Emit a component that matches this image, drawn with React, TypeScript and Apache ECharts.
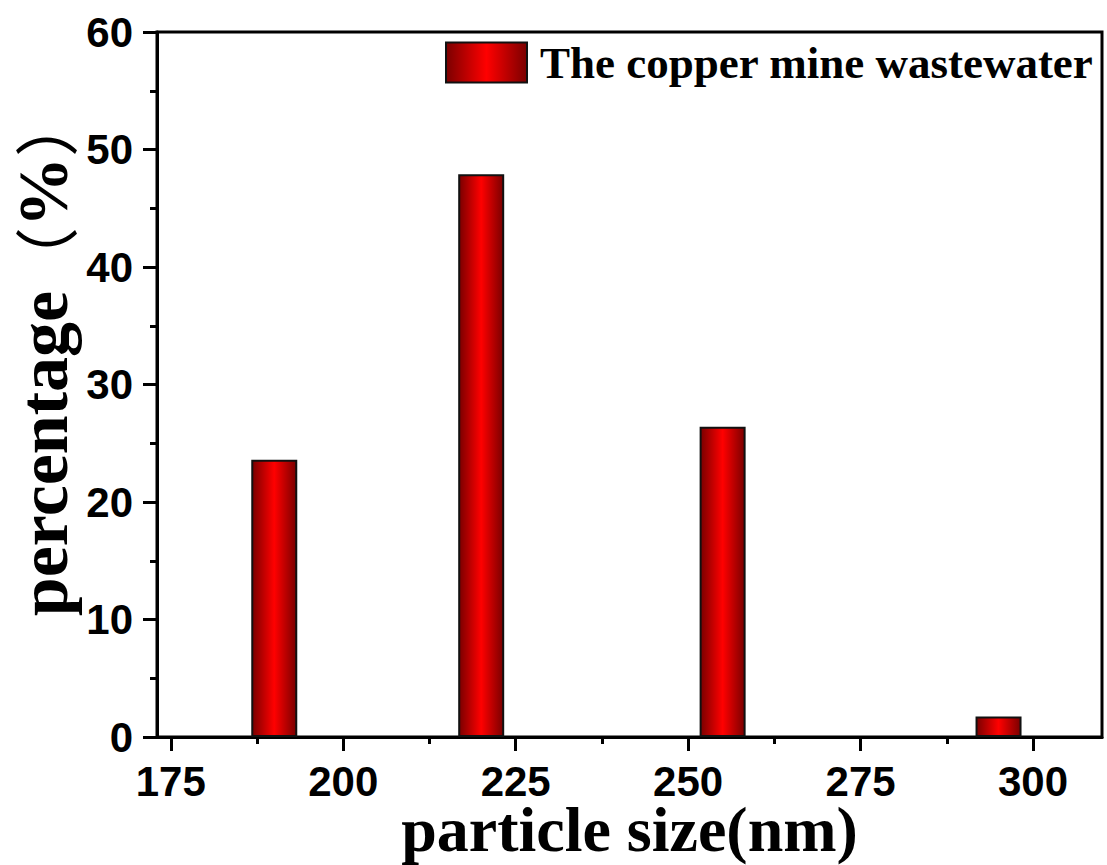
import React, { useEffect, useRef } from "react";
import * as echarts from "echarts";

const sizes = [190, 220, 255, 295];
const percentages = [23.6, 47.9, 26.4, 1.75];
const xMajorTicks = [175, 200, 225, 250, 275, 300];
const xMinorTicks = [187.5, 212.5, 237.5, 262.5, 287.5];
const seriesName = "The copper mine wastewater";

export default function App() {
  const ref = useRef<HTMLDivElement>(null);
  useEffect(() => {
    if (!ref.current) return;
    const chart = echarts.init(ref.current, undefined, { renderer: "svg" });
    const grad = new echarts.graphic.LinearGradient(0, 0, 1, 0, [
      { offset: 0, color: "#7a0000" },
      { offset: 0.5, color: "#ff0000" },
      { offset: 1, color: "#7a0000" },
    ]);
    const labelFont = {
      fontFamily: "Liberation Sans, Arial, sans-serif",
      fontWeight: "bold" as const,
      fontSize: 42,
      lineHeight: 40,
      color: "#000",
    };
    const serif = "Liberation Serif, Times New Roman, serif";
    const xCommon = {
      type: "value" as const,
      min: 173,
      max: 310,
      splitLine: { show: false },
    };
    chart.setOption({
      animation: false,
      backgroundColor: "#fff",
      grid: {
        left: 157,
        top: 32,
        right: 5,
        bottom: 128,
        outerBoundsMode: "none",
        containLabel: false,
        show: true,
        borderColor: "#000",
        borderWidth: 3,
        backgroundColor: "transparent",
      },
      legend: {
        left: 440,
        top: 35,
        itemWidth: 81,
        itemHeight: 40,
        icon: "rect",
        data: [seriesName],
        textStyle: {
          fontFamily: serif,
          fontWeight: "bold",
          fontSize: 45,
          color: "#000",
          padding: [0, 0, 0, 8],
        },
      },
      xAxis: [
        {
          ...xCommon,
          position: "bottom",
          name: "particle size(nm)",
          nameLocation: "middle",
          nameMoveOverlap: false,
          nameGap: 62,
          nameTextStyle: {
            fontFamily: serif,
            fontWeight: "bold",
            fontSize: 64,
            lineHeight: 60,
            color: "#000",
            verticalAlign: "top",
          },
          axisLine: { show: true, lineStyle: { color: "#000", width: 3 } },
          axisTick: {
            show: true,
            customValues: xMajorTicks,
            length: 14,
            lineStyle: { color: "#000", width: 3 },
          },
          axisLabel: {
            ...labelFont,
            customValues: xMajorTicks,
            margin: 24,
          },
        },
        {
          ...xCommon,
          position: "bottom",
          axisLine: { show: false },
          axisTick: {
            show: true,
            customValues: xMinorTicks,
            length: 7,
            lineStyle: { color: "#000", width: 3 },
          },
          axisLabel: { show: false },
        },
      ],
      yAxis: {
        type: "value",
        min: 0,
        max: 60,
        interval: 10,
        name: "{s|}{t|percentage}{p|（}{t|%}{p|）}",
        nameLocation: "middle",
        nameRotate: 90,
        nameMoveOverlap: false,
        nameGap: 78,
        nameTextStyle: {
          color: "#000",
          rich: {
            s: { width: 60, lineHeight: 72 },
            t: { fontFamily: serif, fontWeight: "bold", fontSize: 70, lineHeight: 72, color: "#000" },
            p: { fontFamily: "Noto Sans CJK SC, sans-serif", fontWeight: "normal", fontSize: 64, lineHeight: 72, color: "#000" },
          },
        },
        splitLine: { show: false },
        axisLine: { show: true, lineStyle: { color: "#000", width: 3 } },
        axisTick: { show: true, length: 14, lineStyle: { color: "#000", width: 3 } },
        minorTick: { show: true, splitNumber: 2, length: 7, lineStyle: { color: "#000", width: 3 } },
        axisLabel: { ...labelFont, margin: 24 },
      },
      series: [
        {
          name: seriesName,
          type: "bar",
          xAxisIndex: 0,
          barWidth: 46,
          data: sizes.map((s, i) => [s, percentages[i]]),
          itemStyle: { color: grad, borderColor: "#111", borderWidth: 2 },
        },
      ],
    });
    return () => chart.dispose();
  }, []);
  return (
    <div
      ref={ref}
      style={{ position: "fixed", left: 0, top: 0, width: 1107, height: 865 }}
    />
  );
}
